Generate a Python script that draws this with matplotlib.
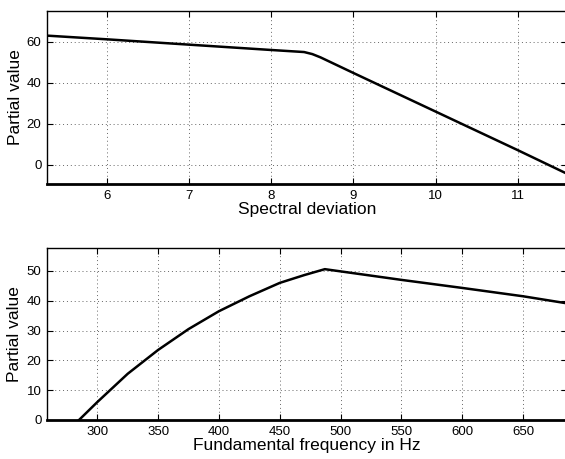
import matplotlib.pyplot as plt

plt.rcParams['font.family'] = ['Liberation Sans', 'DejaVu Sans']

# top panel: spectral deviation
dev_x = [5.27, 6.0, 7.0, 8.0, 8.4, 8.5, 8.6, 9.0, 10.0, 11.0, 11.6]
dev_y = [63.0, 61.2, 58.6, 56.0, 55.0, 54.0, 52.4, 44.8, 26.0, 7.2, -4.3]

# bottom panel: fundamental frequency
f0_x = [285, 300, 325, 350, 375, 400, 425, 450, 470, 487, 550, 600, 650, 685]
f0_y = [0.0, 6.0, 15.5, 23.5, 30.5, 36.5, 41.5, 46.0, 48.6, 50.6, 47.0, 44.3, 41.5, 39.2]

fig = plt.figure(figsize=(5.65, 4.59), dpi=100)
ax1 = fig.add_axes([47/565, 1 - 184/459, 520/565, 173/459])
ax2 = fig.add_axes([47/565, 1 - 420/459, 520/565, 172/459])

ax1.plot(dev_x, dev_y, color='black', lw=1.8)
ax1.set_xlim(5.27, 11.6)
ax1.set_ylim(-9.3, 75)
ax1.set_xticks([6, 7, 8, 9, 10, 11])
ax1.set_yticks([0, 20, 40, 60])
ax1.set_xlabel('Spectral deviation', fontsize=12.5, labelpad=0)
ax1.set_ylabel('Partial value', fontsize=12.5, labelpad=3)

ax2.plot(f0_x, f0_y, color='black', lw=1.8)
ax2.set_xlim(258.7, 686)
ax2.set_ylim(0, 57.7)
ax2.set_xticks([300, 350, 400, 450, 500, 550, 600, 650])
ax2.set_yticks([0, 10, 20, 30, 40, 50])
ax2.set_xlabel('Fundamental frequency in Hz', fontsize=12.5, labelpad=0)
ax2.set_ylabel('Partial value', fontsize=12.5, labelpad=3)

for ax in (ax1, ax2):
    ax.grid(True, linestyle=(0, (1, 3)), color='#666666', lw=0.7)
    ax.tick_params(direction='in', labelsize=9.5, length=4, pad=4,
                   top=True, right=True)
    for s in ax.spines.values():
        s.set_linewidth(1.0)
    ax.spines['bottom'].set_linewidth(2.0)

fig.savefig('out.png', dpi=100)
